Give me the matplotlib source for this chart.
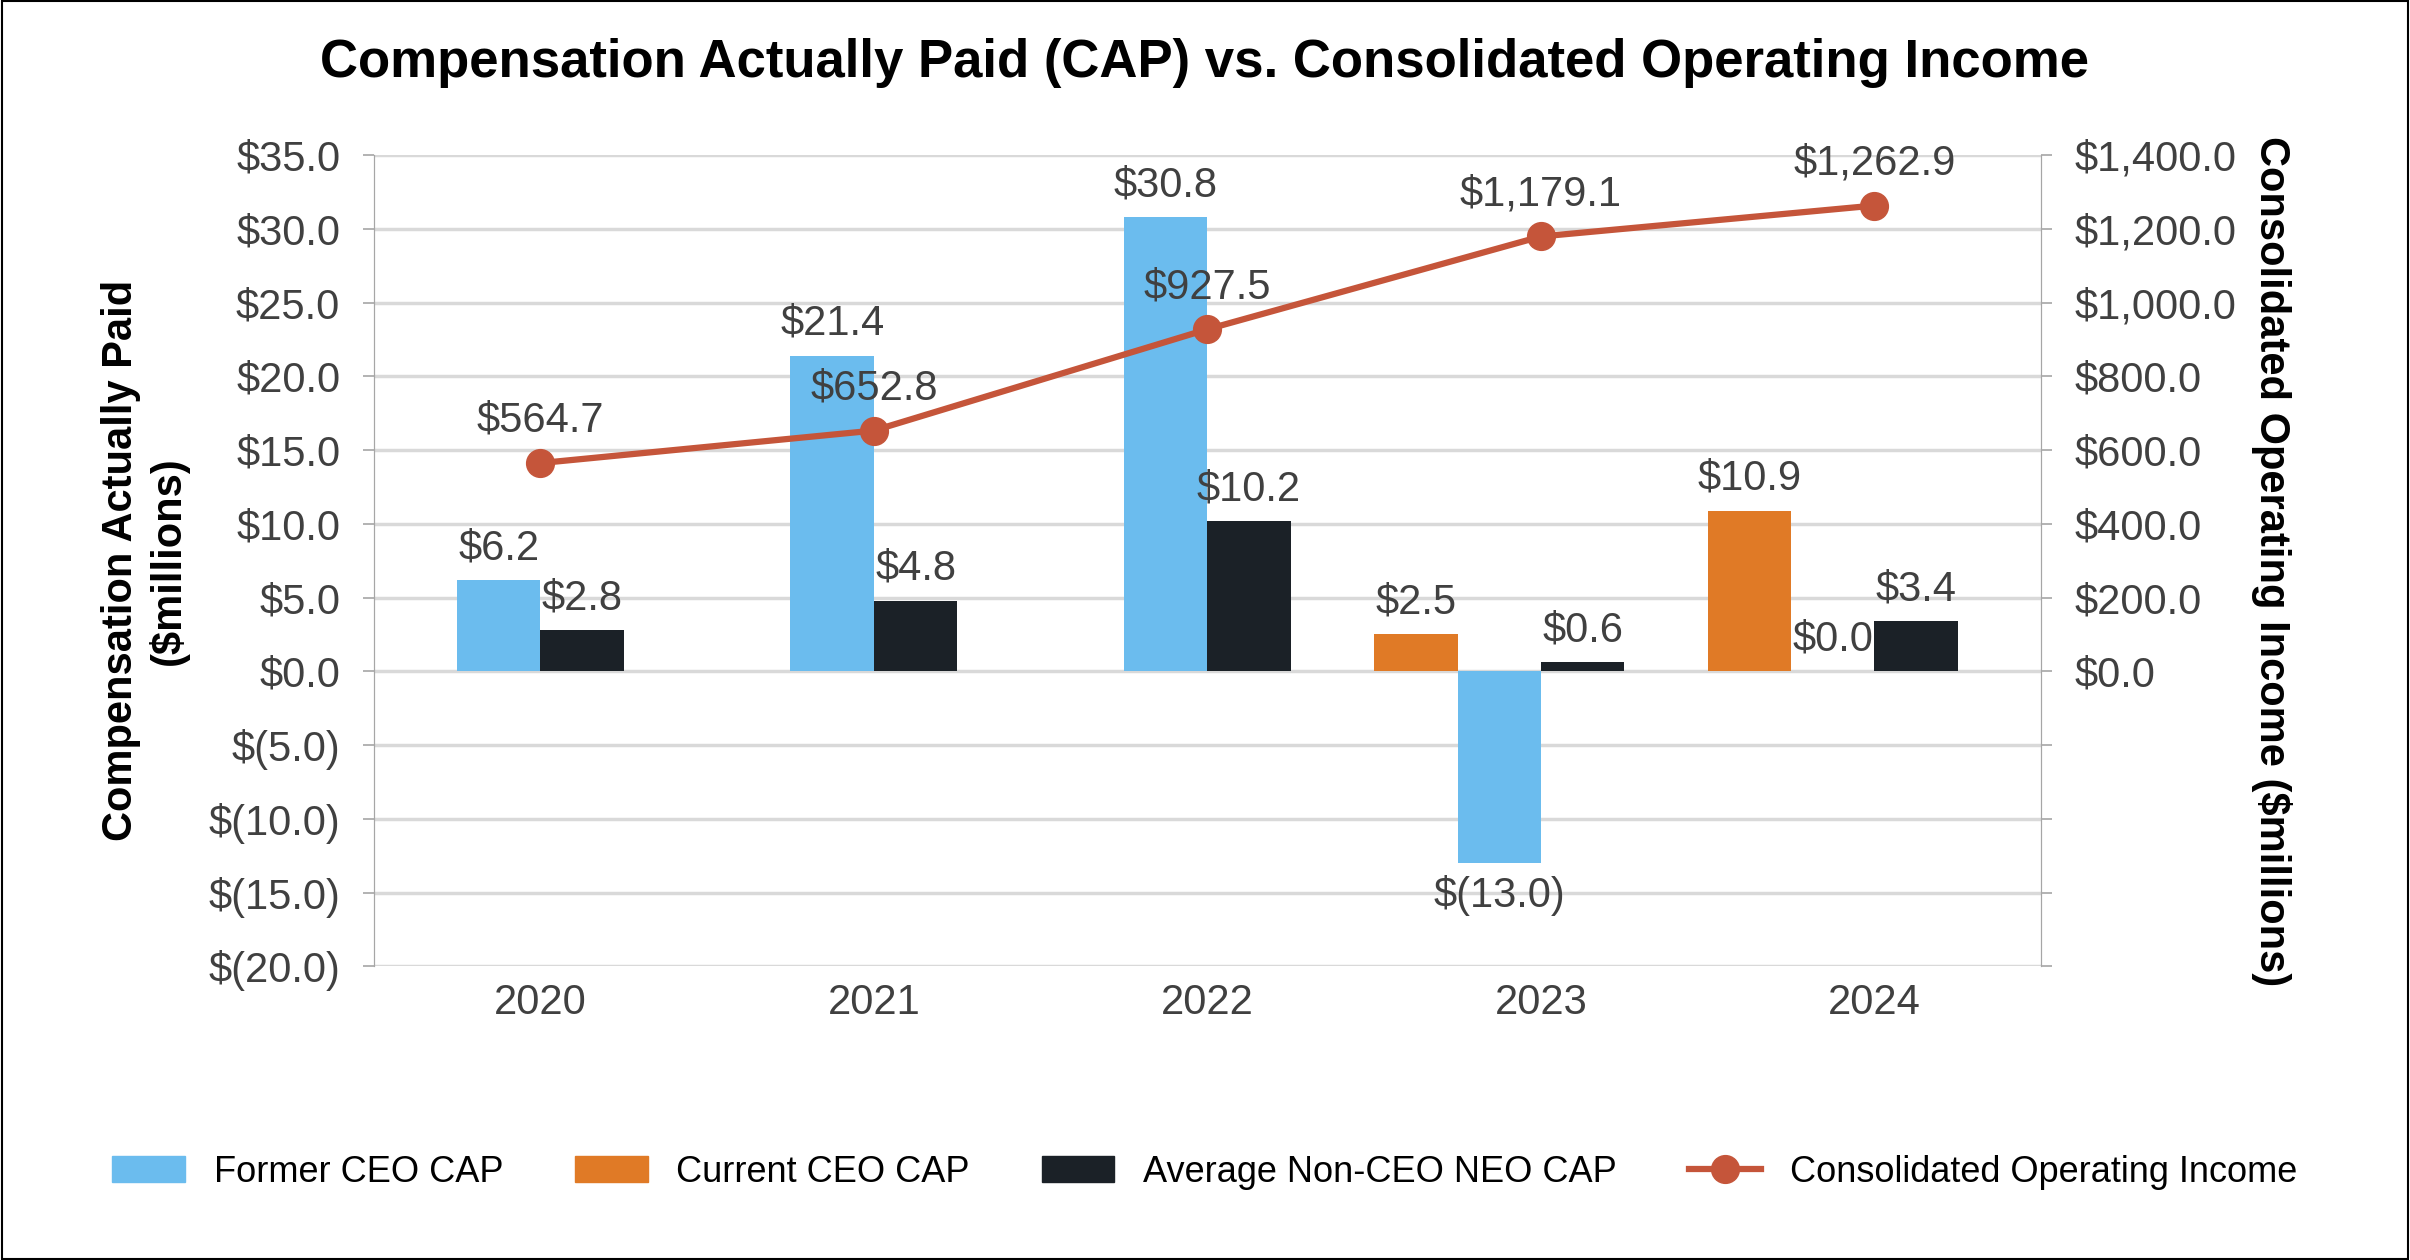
import numpy as np
import matplotlib.pyplot as plt
from matplotlib.patches import Rectangle

years = ["2020", "2021", "2022", "2023", "2024"]
former_ceo_cap = [6.2, 21.4, 30.8, -13.0, 0.0]
current_ceo_cap = [None, None, None, 2.5, 10.9]
neo_cap = [2.8, 4.8, 10.2, 0.6, 3.4]
op_income = [564.7, 652.8, 927.5, 1179.1, 1262.9]

c_blue = "#6BBCEE"
c_orange = "#E07A26"
c_black = "#1B2127"
c_line = "#C5553A"
c_text = "#404040"

plt.rcParams["font.family"] = ["Liberation Sans", "DejaVu Sans"]

fig = plt.figure(figsize=(24.1, 12.6), dpi=100)
ax = fig.add_axes([0.155, 0.233, 0.692, 0.644])
ax2 = ax.twinx()


def fmt(v):
    return f"${v:.1f}" if v >= 0 else f"$({-v:.1f})"


w = 0.25
x = np.arange(len(years))
for i in x:
    series = []
    if current_ceo_cap[i] is not None:
        series.append((current_ceo_cap[i], c_orange, -1.5))
    series.append((former_ceo_cap[i], c_blue, -0.5))
    series.append((neo_cap[i], c_black, 0.5))
    for v, col, k in series:
        xc = i + k * w
        ax.bar(xc, v, width=w, color=col, zorder=3)
        va = "bottom" if v >= 0 else "top"
        off = 0.8 if v >= 0 else -0.8
        ax.text(xc, v + off, fmt(v), ha="center", va=va, fontsize=30, color=c_text, zorder=5)

yt = np.arange(-20, 36, 5)
ax.set_ylim(-20, 35)
ax.set_yticks(yt)
ax.set_yticklabels([fmt(v) for v in yt])
ax.set_xlim(-0.5, len(years) - 0.5)
ax.set_xticks(x)
ax.set_xticklabels(years)
ax.grid(axis="y", color="#d9d9d9", lw=2.5, zorder=0)
ax.set_axisbelow(True)

ax2.plot(x, op_income, color=c_line, lw=4.5, marker="o", markersize=20, zorder=4,
         label="Consolidated Operating Income")
for xi, v in zip(x, op_income):
    ax2.text(xi, v + 60, f"${v:,.1f}", ha="center", va="bottom", fontsize=30, color=c_text)
ax2.set_ylim(-800, 1400)
ticks2 = np.arange(-800, 1401, 200)
ax2.set_yticks(ticks2)
ax2.set_yticklabels([f"${v:,.1f}" if v >= 0 else "" for v in ticks2])

for a in (ax, ax2):
    for s in ("top", "bottom"):
        a.spines[s].set_visible(False)
    for s in ("left", "right"):
        a.spines[s].set_color("#a6a6a6")
    a.tick_params(axis="y", labelsize=30, labelcolor=c_text, color="#a6a6a6", length=8, width=1.2, pad=16)
ax.tick_params(axis="x", labelsize=30, labelcolor=c_text, length=0, pad=12)

ax.set_ylabel("Compensation Actually Paid\n($millions)", fontsize=30, fontweight="bold", labelpad=14)
ax2.set_ylabel("Consolidated Operating Income ($millions)", fontsize=30, fontweight="bold",
               rotation=270, labelpad=40)

fig.suptitle("Compensation Actually Paid (CAP) vs. Consolidated Operating Income",
             fontsize=38, fontweight="bold", y=0.97)

handles = [
    Rectangle((0, 0), 1, 1, color=c_blue),
    Rectangle((0, 0), 1, 1, color=c_orange),
    Rectangle((0, 0), 1, 1, color=c_black),
    ax2.get_lines()[0],
]
labels = ["Former CEO CAP", "Current CEO CAP", "Average Non-CEO NEO CAP",
          "Consolidated Operating Income"]
fig.legend(handles, labels, loc="lower center", ncol=4, frameon=False, fontsize=26,
           bbox_to_anchor=(0.5, 0.03))

fig.patches.append(Rectangle((0.001, 0.001), 0.998, 0.998, transform=fig.transFigure,
                             fill=False, edgecolor="black", lw=1.5))

fig.savefig("out.png", dpi=100)
